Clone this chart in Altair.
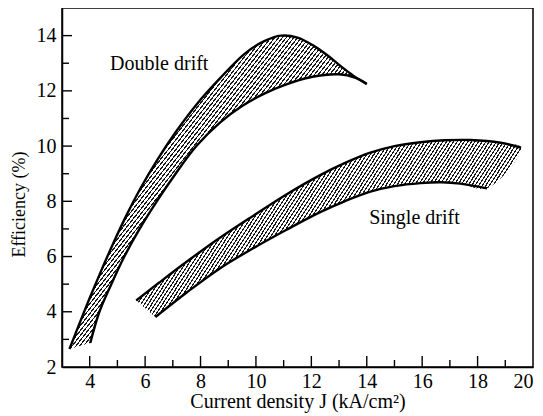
import math
import altair as alt
import pandas as pd

# ---------------- data ----------------
dd_upper_x = [3.27, 3.6, 4.0, 4.42, 4.86, 5.33, 5.85, 6.44, 7.1, 7.85, 8.7, 9.6, 10.3, 10.9, 11.5, 12.1, 12.6, 13.05, 13.5, 14.0]
dd_upper_y = [2.65, 3.5, 4.5, 5.5, 6.5, 7.5, 8.5, 9.5, 10.5, 11.5, 12.45, 13.35, 13.8, 14.0, 13.93, 13.62, 13.27, 12.9, 12.56, 12.25]
dd_lower_x = [4.02, 4.35, 4.78, 5.25, 5.8, 6.42, 7.1, 7.85, 8.7, 9.5, 10.3, 11.0, 12.0, 13.0, 13.6, 14.0]
dd_lower_y = [2.87, 4.0, 5.0, 6.0, 7.0, 8.0, 9.0, 10.0, 10.85, 11.45, 11.9, 12.2, 12.5, 12.6, 12.47, 12.25]

sd_upper_x = [5.68, 6.5, 7.51, 8.7, 9.92, 11.1, 12.32, 13.2, 14.13, 15.0, 15.94, 16.8, 17.74, 18.83, 19.57]
sd_upper_y = [4.41, 5.05, 5.82, 6.68, 7.49, 8.25, 8.95, 9.38, 9.76, 10.0, 10.14, 10.21, 10.22, 10.12, 9.94]
sd_lower_x = [6.37, 7.5, 8.71, 9.9, 11.12, 12.3, 13.2, 14.13, 15.0, 15.94, 16.7, 17.38, 18.34]
sd_lower_y = [3.81, 4.7, 5.58, 6.3, 6.98, 7.6, 8.0, 8.35, 8.55, 8.66, 8.69, 8.64, 8.47]

label_text = ["Double drift", "Single drift"]
label_x = [6.51, 15.72]
label_y = [12.98, 7.38]

x_major = [4, 6, 8, 10, 12, 14, 16, 18]
x_minor = [5, 7, 9, 11, 13, 15, 17, 19]
y_major = [4, 6, 8, 10, 12, 14]
y_minor = [3, 5, 7, 9, 11, 13]
x_labels = [4, 6, 8, 10, 12, 14, 16, 18, 20]
y_labels = [2, 4, 6, 8, 10, 12, 14]

# ---------------- layout ----------------
W, H = 471, 359
XMIN, XMAX, YMIN, YMAX = 3, 20, 2, 15
FONT = "Liberation Serif"

xs = alt.Scale(domain=[XMIN, XMAX], nice=False, zero=False)
ys = alt.Scale(domain=[YMIN, YMAX], nice=False, zero=False)


def curve_df(xv, yv, name):
    return pd.DataFrame({"x": xv, "y": yv, "i": list(range(len(xv))), "curve": name})


def poly_df(ux, uy, lx, ly):
    x = list(ux) + list(lx[::-1])
    y = list(uy) + list(ly[::-1])
    return pd.DataFrame({"x": x, "y": y, "i": list(range(len(x)))})


def hatch(xv, yv, angle_deg, spacing=3.0, dark_frac=0.38):
    bw = (max(xv) - min(xv)) * W / (XMAX - XMIN)
    bh = (max(yv) - min(yv)) * H / (YMAX - YMIN)
    r = math.tan(math.radians(angle_deg)) * bw / bh
    b = (r + 1) / (r * r + 1)
    a = r * b
    grad = math.sqrt((a / bw) ** 2 + (b / bh) ** 2) / (a * a + b * b)
    n = max(1, int(round((1 / grad) / spacing)))
    stops = []
    for k in range(n):
        o = k / n
        m = (k + dark_frac) / n
        e = (k + 1) / n
        stops += [
            {"offset": o, "color": "#1a1a1a"},
            {"offset": m, "color": "#1a1a1a"},
            {"offset": m, "color": "#ffffff"},
            {"offset": e, "color": "#ffffff"},
        ]
    return {"gradient": "linear", "x1": 0, "y1": 0, "x2": a, "y2": b, "stops": stops}


dd_poly = poly_df(dd_upper_x, dd_upper_y, dd_lower_x, dd_lower_y)
sd_poly = poly_df(sd_upper_x, sd_upper_y, sd_lower_x, sd_lower_y)

curves = pd.concat([
    curve_df(dd_upper_x, dd_upper_y, "dd_up"),
    curve_df(dd_lower_x, dd_lower_y, "dd_lo"),
    curve_df(sd_upper_x, sd_upper_y, "sd_up"),
    curve_df(sd_lower_x, sd_lower_y, "sd_lo"),
])

xenc = alt.X("x:Q", scale=xs, axis=alt.Axis(
    values=x_labels, ticks=False, grid=False, domainColor="black", domainWidth=1.5,
    labelFont=FONT, labelFontSize=20, labelColor="black", labelPadding=4,
    title="Current density J (kA/cm²)", titleFont=FONT, titleFontSize=20,
    titleFontWeight="normal", titleColor="black", titlePadding=0))
yenc = alt.Y("y:Q", scale=ys, axis=alt.Axis(
    values=y_labels, ticks=False, grid=False, domainColor="black", domainWidth=1.5,
    labelFont=FONT, labelFontSize=20, labelColor="black", labelPadding=6,
    title="Efficiency (%)", titleFont=FONT, titleFontSize=18, titleFontWeight="normal",
    titleColor="black", titleX=-38, titleY=196, titleBaseline="alphabetic", titleAlign="center"))

dd_fill = alt.Chart(dd_poly).mark_line(
    fill=hatch(dd_poly["x"], dd_poly["y"], 52), strokeWidth=0, interpolate="catmull-rom"
).encode(x=xenc, y=yenc, order="i:Q")

sd_fill = alt.Chart(sd_poly).mark_line(
    fill=hatch(sd_poly["x"], sd_poly["y"], 57), strokeWidth=0, interpolate="catmull-rom"
).encode(x=alt.X("x:Q", scale=xs), y=alt.Y("y:Q", scale=ys), order="i:Q")

lines = alt.Chart(curves).mark_line(
    color="black", strokeWidth=2.4, interpolate="catmull-rom"
).encode(x=alt.X("x:Q", scale=xs), y=alt.Y("y:Q", scale=ys), order="i:Q", detail="curve:N")

labels = alt.Chart(pd.DataFrame({"t": label_text, "x": label_x, "y": label_y})).mark_text(
    font=FONT, fontSize=20, color="black", align="center", baseline="middle"
).encode(x=alt.X("x:Q", scale=xs), y=alt.Y("y:Q", scale=ys), text="t:N")

xmaj = alt.Chart(pd.DataFrame({"v": x_major})).mark_rule(color="black", strokeWidth=1.4).encode(
    x=alt.X("v:Q", scale=xs), y=alt.value(H), y2=alt.value(H - 11))
xmin_ = alt.Chart(pd.DataFrame({"v": x_minor})).mark_rule(color="black", strokeWidth=1.4).encode(
    x=alt.X("v:Q", scale=xs), y=alt.value(H), y2=alt.value(H - 7))
ymaj = alt.Chart(pd.DataFrame({"v": y_major})).mark_rule(color="black", strokeWidth=1.4).encode(
    y=alt.Y("v:Q", scale=ys), x=alt.value(0), x2=alt.value(10))
ymin_ = alt.Chart(pd.DataFrame({"v": y_minor})).mark_rule(color="black", strokeWidth=1.4).encode(
    y=alt.Y("v:Q", scale=ys), x=alt.value(0), x2=alt.value(7))

chart = alt.layer(dd_fill, sd_fill, lines, labels, xmaj, xmin_, ymaj, ymin_).properties(
    width=W, height=H,
    autosize=alt.AutoSizeParams(type="none"),
    padding={"left": 54, "top": 0, "right": 2, "bottom": 49},
).configure_view(stroke="black", strokeWidth=1.5)

chart.save("out.html", embed_options={"renderer": "svg", "actions": False})
